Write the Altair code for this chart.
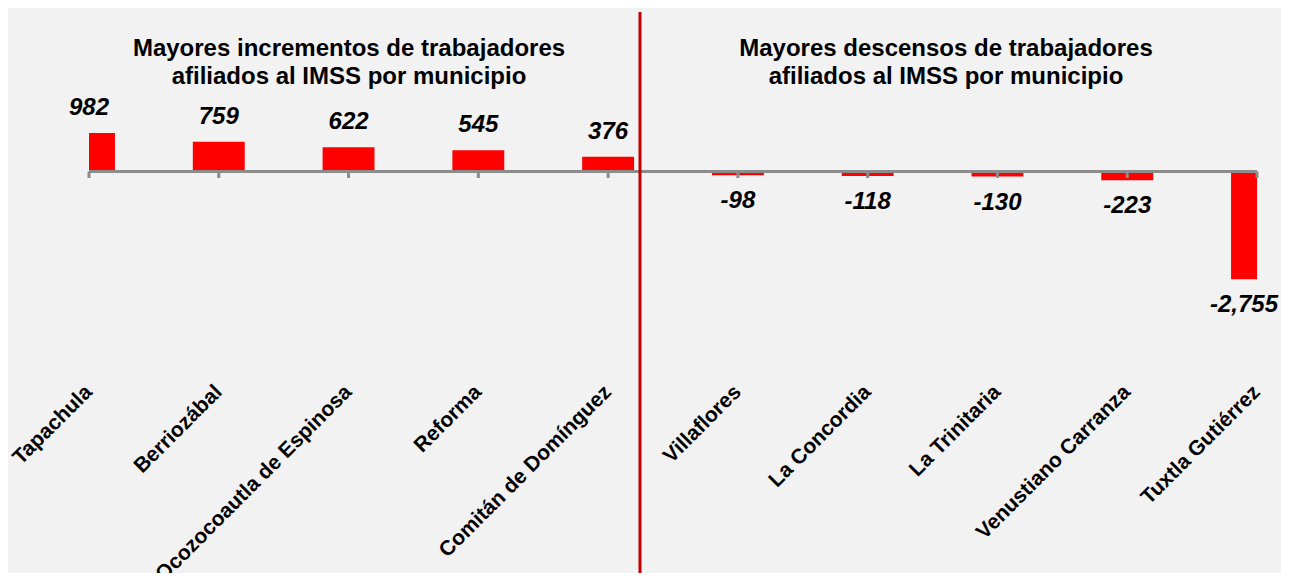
import altair as alt
import pandas as pd

municipios = ["Tapachula", "Berriozábal", "Ocozocoautla de Espinosa", "Reforma",
              "Comitán de Domínguez", "Villaflores", "La Concordia", "La Trinitaria",
              "Venustiano Carranza", "Tuxtla Gutiérrez"]
valores = [982, 759, 622, 545, 376, -98, -118, -130, -223, -2755]
titulo_izq = ["Mayores incrementos de trabajadores", "afiliados al IMSS por municipio"]
titulo_der = ["Mayores descensos de trabajadores", "afiliados al IMSS por municipio"]

df = pd.DataFrame({
    "municipio": municipios,
    "v": valores,
    "i": list(range(len(municipios))),
    "label": [f"{v:,}" for v in valores],
})

W, H = 1273, 565
BG = "#f2f2f2"
FONT = "Liberation Sans"
last = len(municipios) - 1

xs = alt.Scale(domain=[-0.6241, 9.1848], nice=False, zero=False)
ys = alt.Scale(domain=[-10258, 4177], nice=False, zero=False)

base = alt.Chart(df)

bars = base.transform_calculate(
    x1=f"max(datum.i - 0.2, 0)", x2=f"min(datum.i + 0.2, {last})"
).mark_bar(color="#ff0000").encode(
    x=alt.X("x1:Q", scale=xs, axis=None),
    x2="x2:Q",
    y=alt.Y("v:Q", scale=ys, axis=None),
    y2=alt.datum(0),
)

axis_line = alt.Chart(pd.DataFrame({"a": [0]})).mark_rule(color="#8c8c8c", strokeWidth=3).encode(
    x=alt.datum(0, scale=xs), x2=alt.datum(last), y=alt.datum(0, scale=ys)
)

ticks = base.mark_rule(color="#8c8c8c", strokeWidth=3).encode(
    x=alt.X("i:Q", scale=xs), y=alt.datum(0, scale=ys), y2=alt.value(170)
)

pos_labels = base.transform_filter("datum.v > 0").mark_text(
    font=FONT, fontSize=24, fontWeight="bold", fontStyle="italic",
    baseline="middle", align="center", dy=-25, color="#000000"
).encode(
    x=alt.X("i:Q", scale=xs), y=alt.Y("v:Q", scale=ys), text="label:N"
)

neg_labels = base.transform_filter("datum.v < 0").transform_calculate(
    xl="min(datum.i, 8.9)"
).mark_text(
    font=FONT, fontSize=24, fontWeight="bold", fontStyle="italic",
    baseline="middle", align="center", dy=26, color="#000000"
).encode(
    x=alt.X("xl:Q", scale=xs), y=alt.Y("v:Q", scale=ys), text="label:N"
)

cat_labels = base.mark_text(
    font=FONT, fontSize=21, fontWeight="bold", angle=315,
    align="right", baseline="middle", color="#000000"
).encode(
    x=alt.X("i:Q", scale=xs), y=alt.value(381), text="municipio:N"
)

sep = alt.Chart(pd.DataFrame({"a": [0]})).mark_rule(color="#c00000", strokeWidth=3).encode(
    x=alt.value(632), y=alt.value(4), y2=alt.value(566)
)

t1 = alt.Chart(pd.DataFrame({"a": [0]})).mark_text(
    text=titulo_izq, font=FONT, fontSize=24, fontWeight="bold", lineHeight=28,
    align="center", baseline="alphabetic", color="#000000"
).encode(x=alt.value(341), y=alt.value(48))

t2 = alt.Chart(pd.DataFrame({"a": [0]})).mark_text(
    text=titulo_der, font=FONT, fontSize=24, fontWeight="bold", lineHeight=28,
    align="center", baseline="alphabetic", color="#000000"
).encode(x=alt.value(938), y=alt.value(48))

chart = alt.layer(
    bars, axis_line, ticks, pos_labels, neg_labels, cat_labels, sep, t1, t2
).properties(
    width=W, height=H, padding=0, autosize=alt.AutoSizeParams(type="none"),
    background=BG
).configure_view(stroke=None)

chart.save("out.html", embed_options={"renderer": "svg", "actions": False})
